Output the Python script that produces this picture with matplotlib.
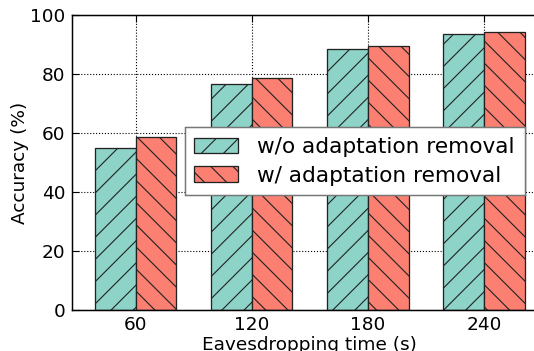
import matplotlib
matplotlib.use("Agg")
import matplotlib.pyplot as plt
import numpy as np

categories = ["60", "120", "180", "240"]
without_removal = [55.0, 76.6, 88.4, 93.7]
with_removal = [58.6, 78.8, 89.6, 94.3]
series_labels = ["w/o adaptation removal", "w/ adaptation removal"]
yticks = [0, 20, 40, 60, 80, 100]

plt.rcParams['font.family'] = ['DejaVu Sans']
plt.rcParams['hatch.linewidth'] = 0.6

dpi = 133.33
fig = plt.figure(figsize=(534 / dpi, 351 / dpi), dpi=dpi)
ax = fig.add_axes([0.1348, 0.1168, 0.891, 0.840])

x = np.arange(len(categories))
w = 0.35
ax.bar(x - w / 2, without_removal, w, color="#8dd3c7", edgecolor="#222222",
       linewidth=0.7, hatch="//", label=series_labels[0], zorder=2)
ax.bar(x + w / 2, with_removal, w, color="#fb8072", edgecolor="#222222",
       linewidth=0.7, hatch="\\\\", label=series_labels[1], zorder=2)

ax.set_xlim(-0.55, 3.55)
ax.set_ylim(0, 100)
ax.set_xticks(x)
ax.set_xticklabels(categories)
ax.set_yticks(yticks)
ax.tick_params(direction="in", top=True, right=True, labelsize=10, length=4, width=0.6)
ax.grid(True, linestyle=":", color="black", linewidth=0.6, zorder=0)
ax.set_axisbelow(True)
ax.set_xlabel("Eavesdropping time (s)", fontsize=10, labelpad=1)
ax.set_ylabel("Accuracy (%)", fontsize=10, labelpad=0.5)
for s in ax.spines.values():
    s.set_linewidth(0.8)

leg = ax.legend(loc="upper left", bbox_to_anchor=(0.237, 0.62), borderaxespad=0,
                fontsize=11.7, fancybox=False, framealpha=1, edgecolor="#777777",
                handlelength=2.0, handletextpad=0.9, borderpad=0.45, labelspacing=0.4)
leg.get_frame().set_linewidth(0.8)

fig.savefig("out.png", dpi=dpi)
